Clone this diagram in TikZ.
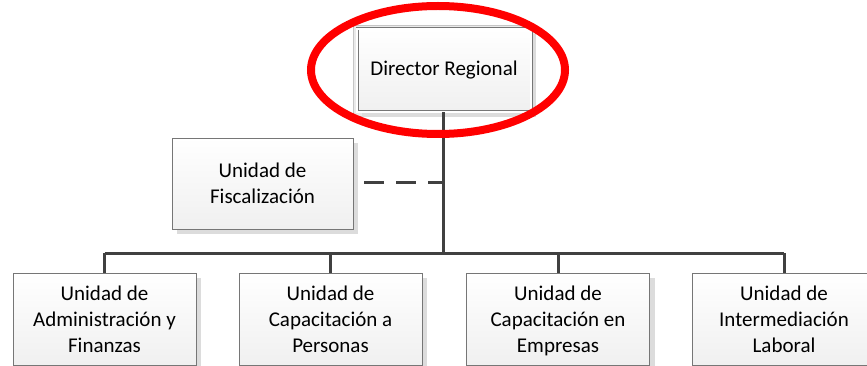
\documentclass[tikz,border=0pt]{standalone}
\usepackage{fontspec}
\setmainfont{Carlito}
\usetikzlibrary{shadows}

\definecolor{linegray}{HTML}{404040}
\definecolor{boxgray}{HTML}{767676}
\definecolor{shadegray}{HTML}{DCDCDC}

\tikzset{
  unit/.style={draw=boxgray,line width=0.9pt,top color=white,bottom color=gray!12,
    align=center,inner sep=0pt,minimum width=183pt,minimum height=92pt,
    font=\fontsize{21}{26}\selectfont,
    drop shadow={shadow xshift=5pt,shadow yshift=-5pt,fill=shadegray,opacity=1}},
  lowunit/.style={unit,text depth=0pt},
  conn/.style={draw=linegray,line width=3pt},
  dashconn/.style={draw=linegray,line width=3pt,dash pattern=on 20pt off 12pt}
}

\begin{document}
\begin{tikzpicture}[x=1pt,y=-1pt]
          \useasboundingbox (0,0) rectangle (867,366);
          \clip (0,0) rectangle (867,366);
          \draw[gray!45,fill=shadegray!60] (353,25) rectangle (535,116);
          \node[unit,minimum width=174pt,minimum height=83pt,double=white,double distance=1.6pt,line width=0.7pt] (dir) at (444,70.5) {Director Regional};
          \node[unit,minimum width=181pt,minimum height=91pt] (fisc) at (262.5,183.5) {Unidad de\\Fiscalización};
          \node[lowunit] (u1) at (104.5,319) {Unidad de\\Administración y\\Finanzas};
          \node[lowunit] (u2) at (330.5,319) {Unidad de\\Capacitación a\\Personas};
          \node[lowunit] (u3) at (558,319) {Unidad de\\Capacitación en\\Empresas};
          \node[lowunit] (u4) at (784,319) {Unidad de\\Intermediación\\Laboral};
          \coordinate (bar) at (443,253);
          \coordinate (tee) at (443,183);
          \coordinate (fiscend) at (364,183);
          \draw[conn] (dir.south -| bar) -- (bar);
          \draw[conn] (u1.north |- bar) -- (u4.north |- bar);
          \foreach \u in {u1,u2,u3,u4}
            \draw[conn] (\u.north) -- (\u.north |- bar);
          \draw[dashconn] (fiscend) -- (tee);
          \draw[red,line width=8pt] (438,70) ellipse [x radius=127,y radius=64];
        \end{tikzpicture}
\end{document}
